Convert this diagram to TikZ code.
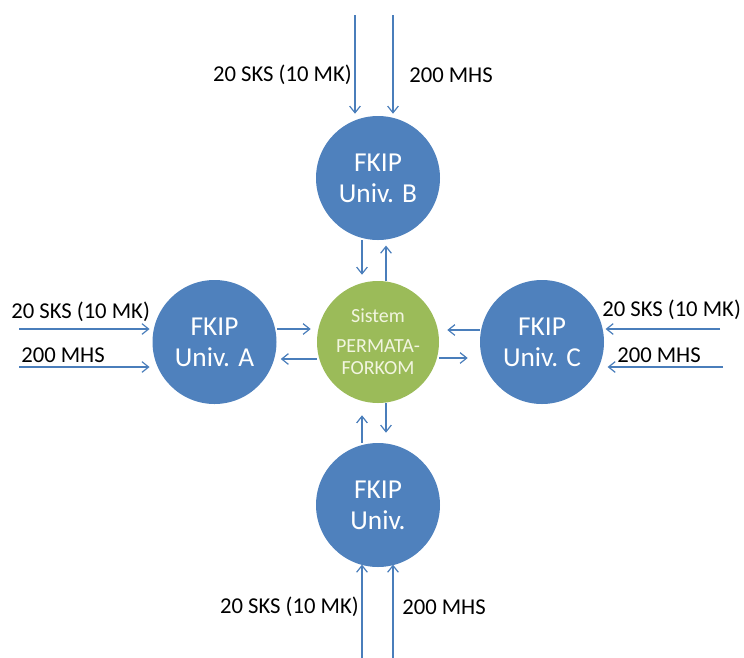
\documentclass[tikz,border=0pt]{standalone}
\usepackage{fontspec}
\setmainfont{Carlito}
\usetikzlibrary{arrows.meta,calc}
\definecolor{cblue}{HTML}{4F81BD}
\definecolor{cgreen}{HTML}{9BBB59}
\definecolor{cline}{HTML}{4A7EBB}
\definecolor{ctext}{HTML}{F2F5E0}
\begin{document}
\begin{tikzpicture}[x=0.75pt,y=-0.75pt,
  bluec/.style={circle,fill=cblue,draw=none,minimum size=93pt,inner sep=0pt,text=white,align=center,font=\fontsize{20.5}{23.5}\selectfont},
  greenc/.style={circle,fill=cgreen,draw=none,minimum size=91.5pt,inner sep=0pt,text=ctext,align=center,font=\fontsize{15}{16.5}\selectfont},
  lbl/.style={inner sep=0pt,font=\fontsize{17}{20}\selectfont,text=black},
  arr/.style={draw=cline,line width=0.9pt,-{Straight Barb[length=5pt,width=8pt]}}]
\useasboundingbox (0,0) rectangle (744,658);
\node[greenc] (G) at (378,342) {Sistem\\[6pt]PERMATA-\\FORKOM};
\node[bluec] (B) at (378,178) {FKIP\\Univ. B};
\node[bluec] (A) at (214.5,342) {FKIP\\Univ. A};
\node[bluec] (C) at (542,342) {FKIP\\Univ. C};
\node[bluec] (D) at (378,505) {FKIP\\Univ.};
% free ends of inputs
\coordinate (b1) at (355,15);
\coordinate (b2) at (393,15);
\coordinate (a1) at (19,329);
\coordinate (a2) at (19,367);
\coordinate (c1) at (720,329);
\coordinate (c2) at (723,367);
\coordinate (d1) at (362,658);
\coordinate (d2) at (393,658);
% inputs
\draw[arr,shorten >=1.5pt] (b1) -- (b1 |- B.north);
\draw[arr,shorten >=1.5pt] (b2) -- (b2 |- B.north);
\draw[arr,shorten >=2pt] (a1) -- (a1 -| A.west);
\draw[arr,shorten >=2pt] (a2) -- (a2 -| A.west);
\draw[arr,shorten >=1pt] (c1) -- (c1 -| C.east);
\draw[arr,shorten >=2.5pt] (c2) -- (c2 -| C.east);
\draw[arr,shorten >=-2pt] (d1) -- (d1 |- D.south);
\draw[arr,shorten >=-2pt] (d2) -- (d2 |- D.south);
% labels
\node[lbl,anchor=east] (lb1) at (352,75) {20 SKS (10 MK)};
\node[lbl,anchor=west] (lb2) at (409,75) {200 MHS};
\node[lbl,anchor=west] (la1) at (11,312) {20 SKS (10 MK)};
\node[lbl,anchor=west] (la2) at (21,355) {200 MHS};
\node[lbl,anchor=west] (lc1) at (602,310) {20 SKS (10 MK)};
\node[lbl,anchor=west] (lc2) at (617,355) {200 MHS};
\node[lbl,anchor=east] (ld1) at (359,607) {20 SKS (10 MK)};
\node[lbl,anchor=west] (ld2) at (402,607) {200 MHS};
% exchanges with the centre
\draw[arr,shorten >=4.5pt] ([yshift=13*0.75pt]A.east) -- ([yshift=13*0.75pt]G.west);
\draw[arr,shorten >=3pt] ([yshift=-17*0.75pt]G.west) -- ([yshift=-17*0.75pt]A.east);
\draw[arr,shorten >=6pt] ([yshift=12*0.75pt]C.west) -- ([yshift=12*0.75pt]G.east);
\draw[arr,shorten >=9pt] ([yshift=-16*0.75pt]G.east) -- ([yshift=-16*0.75pt]C.west);
\draw[arr,shorten >=4.5pt] ([xshift=-16*0.75pt]B.south) -- ([xshift=-16*0.75pt]G.north);
\draw[arr,shorten >=4pt] ([xshift=8*0.75pt]G.north) -- ([xshift=8*0.75pt]B.south);
\draw[arr,shorten >=9pt] ([xshift=-16*0.75pt]D.north) -- ([xshift=-16*0.75pt]G.south);
\draw[arr,shorten >=7.5pt] ([xshift=8*0.75pt]G.south) -- ([xshift=8*0.75pt]D.north);
\end{tikzpicture}
\end{document}
